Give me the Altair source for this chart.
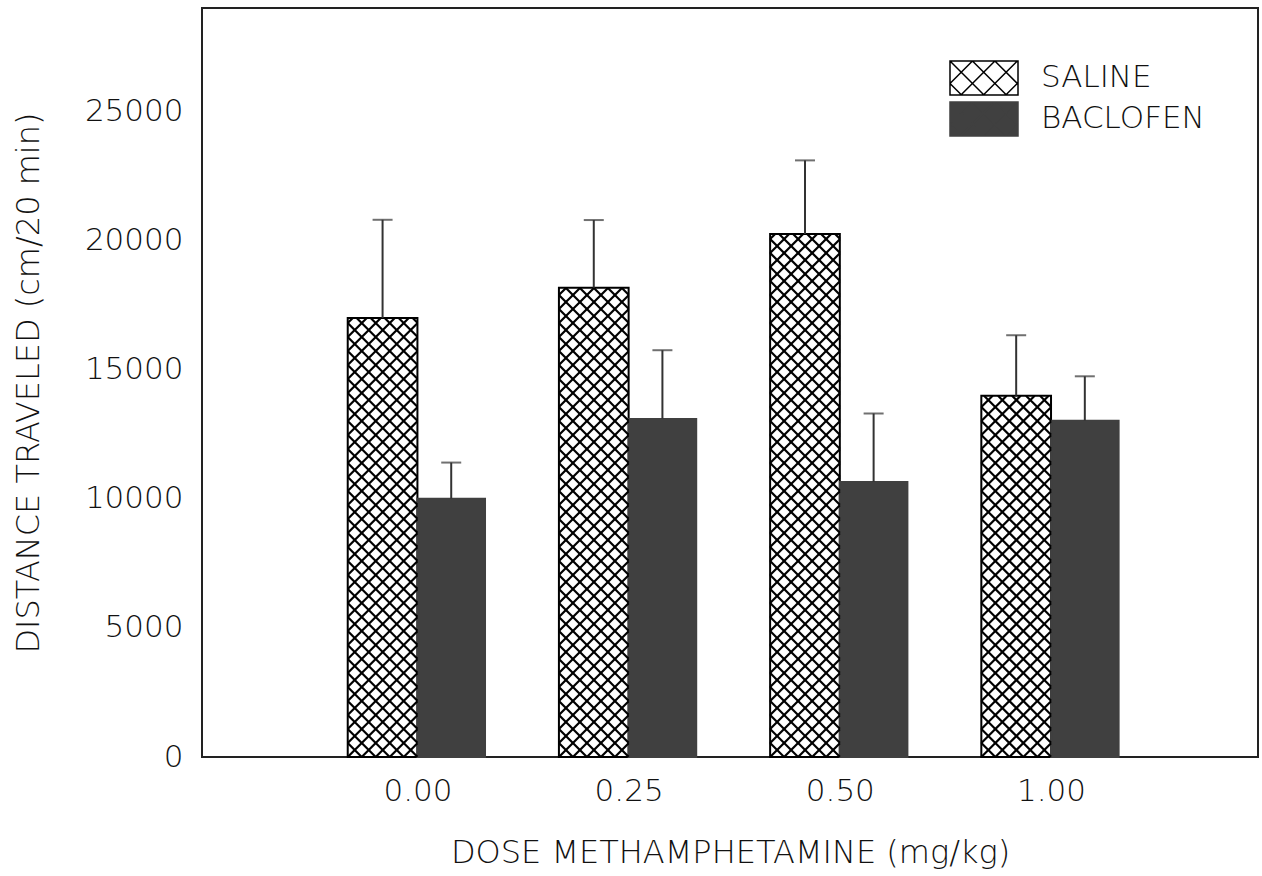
import altair as alt
import pandas as pd
import numpy as np

# ---------------- data ----------------
doses = ["0.00", "0.25", "0.50", "1.00"]
groups = ["SALINE", "BACLOFEN"]
saline_mean = [17000, 18170, 20250, 13990]
saline_sem = [3800, 2620, 2850, 2340]
baclofen_mean = [10000, 13090, 10650, 13020]
baclofen_sem = [1400, 2660, 2650, 1720]
y_tick_values = [0, 5000, 10000, 15000, 20000, 25000]

# ---------------- layout constants ----------------
W, H = 1056, 749
XDOM = [-0.02, 4.98]
YDOM = [0, 29000]
SAL_W, BAC_W = 0.33, 0.32
FONT = "DejaVu Sans"
FW = 200
TXT = "#111111"
DARK = "#404040"
HATCH_PERIOD = 14.0

rows = []
for i, d in enumerate(doses):
    pos = i + 1
    rows.append(dict(dose=d, group="SALINE", x0=pos - SAL_W, x1=pos, xc=pos - SAL_W / 2,
                     mean=saline_mean[i], top=saline_mean[i] + saline_sem[i]))
    rows.append(dict(dose=d, group="BACLOFEN", x0=pos, x1=pos + BAC_W, xc=pos + BAC_W / 2,
                     mean=baclofen_mean[i], top=baclofen_mean[i] + baclofen_sem[i]))
bars_df = pd.DataFrame(rows)

# ---------------- cross-hatch segments for the saline bars ----------------
sx = W / (XDOM[1] - XDOM[0])
sy = H / (YDOM[1] - YDOM[0])
segs = []
for _, r in bars_df[bars_df.group == "SALINE"].iterrows():
    X0 = (r.x0 - XDOM[0]) * sx
    X1 = (r.x1 - XDOM[0]) * sx
    Y0, Y1 = 0.0, r["mean"] * sy
    w = X1 - X0
    kmin = int(np.floor(-w / HATCH_PERIOD)) - 1
    kmax = int(np.ceil((Y1 + w) / HATCH_PERIOD)) + 1
    for s in (1, -1):
        for k in range(kmin, kmax + 1):
            if s == 1:
                c = -X0 + k * HATCH_PERIOD
                lo, hi = max(X0, Y0 - c), min(X1, Y1 - c)
            else:
                c = X0 + k * HATCH_PERIOD
                lo, hi = max(X0, c - Y1), min(X1, c - Y0)
            if hi - lo > 0.3:
                ya, yb = s * lo + c, s * hi + c
                segs.append(dict(x=lo / sx + XDOM[0], x2=hi / sx + XDOM[0],
                                 y=ya / sy, y2=yb / sy))
hatch_df = pd.DataFrame(segs)

# ---------------- legend symbol path (rectangle + cross-hatch) ----------------
def legend_path(period=1.32):
    x0, x1, y0, y1 = -2.0, 2.0, -1.0, 1.0
    parts = ["M-2,-1H2V1H-2Z"]
    for s in (1, -1):
        for k in range(-6, 10):
            if s == 1:
                c = -x0 + y0 + k * period
                lo, hi = max(x0, y0 - c), min(x1, y1 - c)
            else:
                c = x0 + y0 + k * period
                lo, hi = max(x0, c - y1), min(x1, c - y0)
            if hi - lo > 0.02:
                parts.append("M%.3f,%.3fL%.3f,%.3f" % (lo, s * lo + c, hi, s * hi + c))
    return "".join(parts)

LEG_PATH = legend_path()

xs = alt.Scale(domain=XDOM, nice=False, zero=False)
ys = alt.Scale(domain=YDOM, nice=False)

label_expr = "[" + ",".join("'%s'" % d for d in doses) + "][datum.value - 1]"

x_axis = alt.Axis(values=[1, 2, 3, 4], labelExpr=label_expr, ticks=False, domain=False,
                  grid=False, labelPadding=19, labelFontSize=31, labelFont=FONT,
                  labelFontWeight=FW, labelColor=TXT,
                  title="DOSE METHAMPHETAMINE (mg/kg)", titleFont=FONT,
                  titleFontSize=32, titleFontWeight=FW, titleColor=TXT,
                  titleY=105, titleBaseline="alphabetic")
y_axis = alt.Axis(values=y_tick_values, format="d", ticks=False, domain=False, grid=False,
                  labelPadding=19, labelFontSize=31, labelFont=FONT, labelFontWeight=FW,
                  labelColor=TXT,
                  title="DISTANCE TRAVELED (cm/20 min)", titleFont=FONT, titleFontSize=32,
                  titleFontWeight=FW, titleColor=TXT, titleX=-174,
                  titleBaseline="middle", titleAlign="center")

legend = alt.Legend(orient="none", legendX=764, legendY=52, title=None,
                    symbolType=LEG_PATH, symbolSize=1156, symbolStrokeWidth=1.5,
                    labelFont=FONT, labelFontSize=31, labelFontWeight=FW, labelColor=TXT,
                    labelOffset=39, labelLimit=400, rowPadding=1, padding=0)

bars = alt.Chart(bars_df).mark_bar(strokeWidth=2).encode(
    x=alt.X("x0:Q", scale=xs, axis=x_axis),
    x2="x1:Q",
    y=alt.Y("mean:Q", scale=ys, axis=y_axis),
    y2=alt.datum(0),
    fill=alt.Fill("group:N", scale=alt.Scale(domain=groups, range=["white", DARK]), legend=legend),
    stroke=alt.Stroke("group:N", scale=alt.Scale(domain=groups, range=["black", DARK]), legend=legend),
)

hatch = alt.Chart(hatch_df).mark_rule(color="black", strokeWidth=2.2).encode(
    x=alt.X("x:Q", scale=xs), x2="x2:Q",
    y=alt.Y("y:Q", scale=ys), y2="y2:Q",
)

err = alt.Chart(bars_df).mark_rule(color="#333333", strokeWidth=2).encode(
    x=alt.X("xc:Q", scale=xs), y=alt.Y("mean:Q", scale=ys), y2="top:Q"
)
cap = alt.Chart(bars_df).mark_tick(color="#333333", orient="horizontal", size=20, thickness=2).encode(
    x=alt.X("xc:Q", scale=xs), y=alt.Y("top:Q", scale=ys)
)

chart = alt.layer(bars, hatch, err, cap).properties(
    width=W, height=H,
    autosize=alt.AutoSizeParams(type="none"),
    padding={"left": 202, "top": 8, "right": 4, "bottom": 119},
    background="white",
).configure_view(stroke="#222222", strokeWidth=2)

chart.save("out.html", embed_options={"renderer": "svg", "actions": False})
